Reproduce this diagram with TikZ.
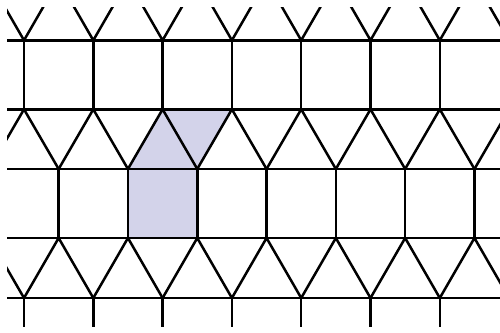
\documentclass[tikz,border=0pt]{standalone}
\definecolor{tilefill}{RGB}{211,211,234}
\begin{document}
\begin{tikzpicture}[x=1pt,y=-1pt,
  edge/.style={draw=black,line width=2.5pt,line cap=round,line join=round},
  shade/.style={fill=tilefill}]
\useasboundingbox (0,0) rectangle (500,332);
\begin{scope}
\clip (7,7) rectangle (500,326);
% shaded tiles
\fill[shade] (128.3,169) -- (197.6,169) -- (197.6,238) -- (128.3,238) -- cycle;
\fill[shade] (128.3,169) -- (162.95,109.3) -- (232.25,109.3) -- (197.6,169) -- cycle;
% horizontal lines
\foreach \y in {40.3,109.3,169,238,298}
  \draw[edge] (-10,\y) -- (520,\y);
\foreach \k in {-1,...,8}{
  \pgfmathsetmacro{\xa}{24+69.3*\k}
  \pgfmathsetmacro{\xb}{58.65+69.3*\k}
  \pgfmathsetmacro{\xc}{\xa-34.65}
  \pgfmathsetmacro{\xd}{\xa+69.3}
  % top triangle row
  \draw[edge] (\xc,-19.7) -- (\xa,40.3) -- (\xb,-19.7);
  % square row 1
  \draw[edge] (\xa,40.3) -- (\xa,109.3);
  % triangle row 2
  \draw[edge] (\xc,169) -- (\xa,109.3) -- (\xb,169);
  % square row 2
  \draw[edge] (\xb,169) -- (\xb,238);
  % triangle row 3
  \draw[edge] (\xa,298) -- (\xb,238) -- (\xd,298);
  % square row 3
  \draw[edge] (\xa,298) -- (\xa,367);
}
\end{scope}
\end{tikzpicture}
\end{document}
